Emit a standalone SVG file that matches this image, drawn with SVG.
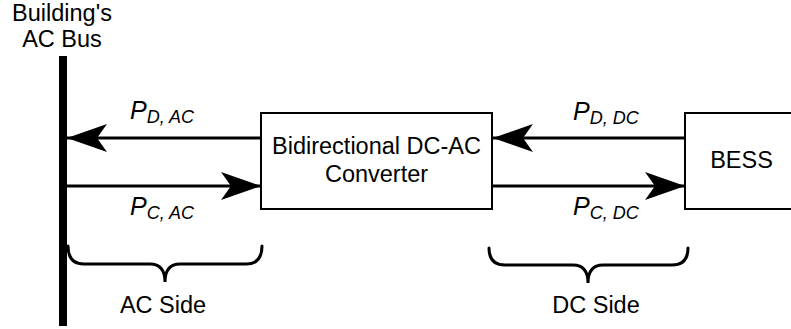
<svg xmlns="http://www.w3.org/2000/svg" width="791" height="329" viewBox="0 0 791 329">
  <defs>
    <style>
      text { font-family: "Liberation Sans", Arial, sans-serif; fill: #000; }
      .lbl { font-size: 23.5px; text-anchor: middle; }
      .pw { font-size: 25px; font-style: italic; }
      .sub { font-size: 18px; }
      .box { fill: #fff; stroke: #000; stroke-width: 2; }
      .flow { stroke: #000; stroke-width: 3; fill: none; }
      .brace { stroke: #000; stroke-width: 3; fill: none; stroke-linecap: round; }
    </style>
    <marker id="head" viewBox="0 0 40 28" refX="40" refY="14" markerWidth="40" markerHeight="28" markerUnits="userSpaceOnUse" orient="auto">
      <path d="M40,14 L0,0 L10,14 L0,28 Z" fill="#000"/>
    </marker>
  </defs>

  <!-- AC bus bar and its caption -->
  <g id="ac-bus">
    <rect x="59" y="56" width="8" height="270" fill="#000"/>
    <text class="lbl" x="62" y="21">Building's</text>
    <text class="lbl" x="62" y="47">AC Bus</text>
  </g>

  <!-- power converter -->
  <g id="converter">
    <rect class="box" x="261" y="113" width="231" height="96"/>
    <text class="lbl" x="376.5" y="154">Bidirectional DC-AC</text>
    <text class="lbl" x="376.5" y="182">Converter</text>
  </g>

  <!-- battery energy storage system -->
  <g id="bess">
    <rect class="box" x="685" y="113" width="120" height="96"/>
    <text class="lbl" x="741.5" y="168">BESS</text>
  </g>

  <!-- power flows -->
  <g id="connectors">
    <line class="flow" x1="261" y1="138" x2="67" y2="138" marker-end="url(#head)"/>
    <line class="flow" x1="67" y1="186" x2="261" y2="186" marker-end="url(#head)"/>
    <line class="flow" x1="685" y1="138" x2="493" y2="138" marker-end="url(#head)"/>
    <line class="flow" x1="493" y1="186" x2="685" y2="186" marker-end="url(#head)"/>
  </g>

  <!-- flow labels -->
  <g id="flow-labels">
    <text class="pw" x="130" y="119">P<tspan class="sub" dy="4">D, AC</tspan></text>
    <text class="pw" x="130" y="215">P<tspan class="sub" dy="4">C, AC</tspan></text>
    <text class="pw" x="573" y="120">P<tspan class="sub" dy="4">D, DC</tspan></text>
    <text class="pw" x="573" y="215">P<tspan class="sub" dy="4">C, DC</tspan></text>
  </g>

  <!-- side braces -->
  <g id="ac-side">
    <path class="brace" d="M68,246 Q68,264 84,264 L150,264 Q165,264 165,282 Q165,264 180,264 L246,264 Q262,264 262,246"/>
    <text class="lbl" x="163" y="313">AC Side</text>
  </g>
  <g id="dc-side">
    <path class="brace" d="M489,248 Q489,265 505,265 L573,265 Q588,265 588,283 Q588,265 603,265 L672,265 Q688,265 688,248"/>
    <text class="lbl" x="596" y="313">DC Side</text>
  </g>
</svg>
